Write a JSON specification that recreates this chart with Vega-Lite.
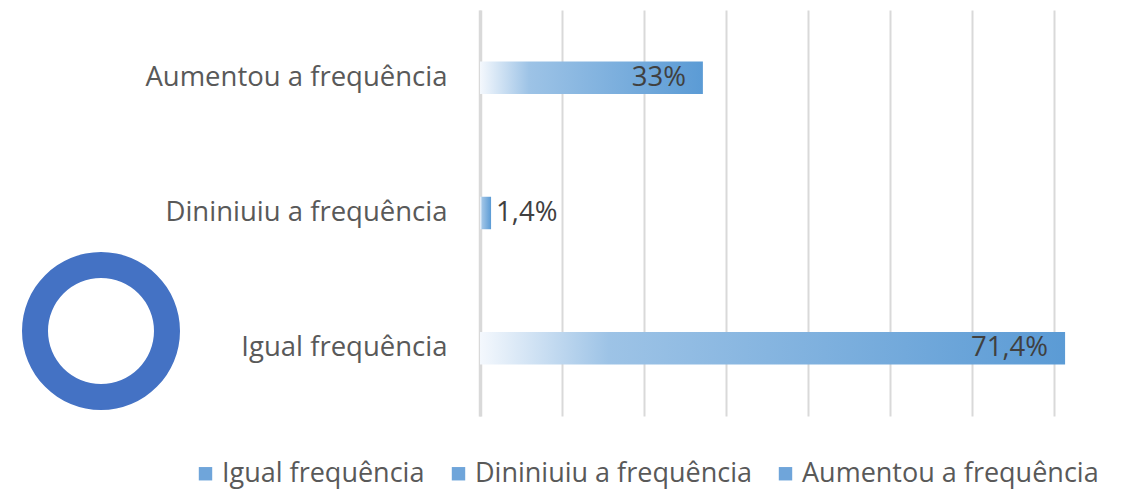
{
  "$schema": "https://vega.github.io/schema/vega-lite/v6.json",
  "padding": {"left": 21, "top": 10, "right": 0, "bottom": 12},
  "background": "white",
  "config": {
    "font": "Open Sans",
    "view": {"stroke": null},
    "concat": {"spacing": 299}
  },
  "datasets": {
    "bars": [
      {"cat": "Aumentou a frequência", "value": 27.2, "label": "33%"},
      {"cat": "Dininiuiu a frequência", "value": 1.35, "label": "1,4%"},
      {"cat": "Igual frequência", "value": 71.4, "label": "71,4%"}
    ],
    "ring": [{"part": "ring", "share": 1}]
  },
  "bounds": "flush",
  "hconcat": [
    {
      "width": 160,
      "height": 406,
      "data": {"name": "ring"},
      "mark": {"type": "arc", "radius": 79, "radius2": 53, "yOffset": 118, "fill": "#4472C4"},
      "encoding": {"theta": {"field": "share", "type": "quantitative"}}
    },
    {
      "width": 590,
      "height": 406,
      "data": {"name": "bars"},
      "encoding": {
        "y": {
          "field": "cat", "type": "nominal",
          "sort": ["Aumentou a frequência", "Dininiuiu a frequência", "Igual frequência"],
          "scale": {"paddingInner": 0.76, "paddingOuter": 0.38},
          "axis": {
            "title": null, "ticks": false, "labelPadding": 33, "labelLimit": 500,
            "labelFontSize": 27.5, "labelColor": "#595959", "labelFont": "Open Sans",
            "domain": true, "domainColor": "#d9d9d9", "domainWidth": 3.5
          }
        },
        "x": {
          "field": "value", "type": "quantitative",
          "scale": {"domain": [0, 72], "nice": false, "zero": true},
          "axis": {
            "title": null, "labels": false, "ticks": false, "domain": false,
            "grid": true, "gridColor": "#d9d9d9", "gridWidth": 2,
            "values": [0, 10, 20, 30, 40, 50, 60, 70]
          }
        }
      },
      "layer": [
        {
          "mark": {
            "type": "bar",
            "fill": {
              "gradient": "linear", "x1": 0, "y1": 0, "x2": 1, "y2": 0,
              "stops": [
                {"offset": 0, "color": "#f4f8fd"},
                {"offset": 0.22, "color": "#9dc3e6"},
                {"offset": 1, "color": "#5b9bd5"}
              ]
            }
          }
        },
        {
          "mark": {"type": "bar", "opacity": 0},
          "encoding": {
            "color": {
              "field": "cat", "type": "nominal",
              "scale": {
                "domain": ["Igual frequência", "Dininiuiu a frequência", "Aumentou a frequência"],
                "range": ["#6fa5da", "#6fa5da", "#6fa5da"]
              },
              "legend": {
                "title": null, "orient": "none", "legendX": 171, "legendY": 450,
                "direction": "horizontal", "columns": 3,
                "symbolType": "square", "symbolSize": 180, "symbolOpacity": 1,
                "symbolStrokeWidth": 0, "labelFontSize": 27, "labelColor": "#595959",
                "labelFont": "Open Sans", "labelOffset": 3, "columnPadding": 20,
                "labelLimit": 500
              }
            }
          }
        },
        {
          "transform": [{"filter": "datum.value > 5"}],
          "mark": {"type": "text", "align": "right", "baseline": "middle", "dx": -17, "fontSize": 27.5, "color": "#404040", "font": "Open Sans"},
          "encoding": {"text": {"field": "label"}}
        },
        {
          "transform": [{"filter": "datum.value <= 5"}],
          "mark": {"type": "text", "align": "left", "baseline": "middle", "dx": 5, "fontSize": 27.5, "color": "#404040", "font": "Open Sans"},
          "encoding": {"text": {"field": "label"}}
        }
      ]
    }
  ]
}
